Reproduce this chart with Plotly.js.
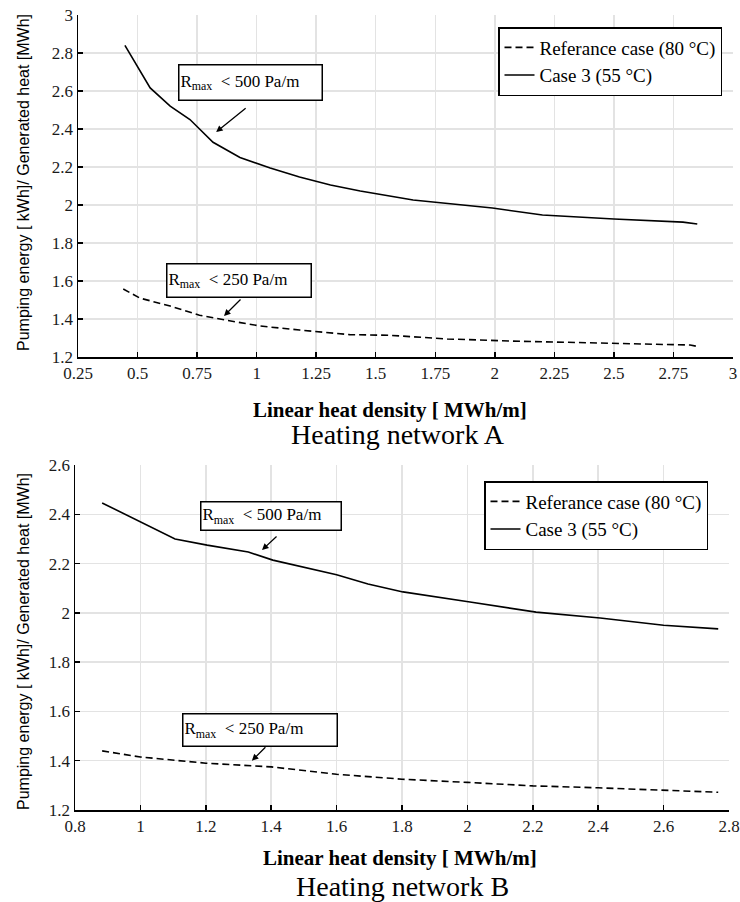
<!DOCTYPE html>
<html>
<head>
<meta charset="utf-8">
<script src="https://cdn.plot.ly/plotly-3.0.1.min.js"></script>
<style>html,body{margin:0;padding:0;background:#fff;}#chart{width:740px;height:902px;}</style>
</head>
<body>
<div id="chart"></div>
<script>
// Heating network A
const aCase3X = [0.447, 0.553, 0.637, 0.72, 0.817, 0.93, 1.057, 1.18, 1.31, 1.435, 1.657, 1.99, 2.2, 2.5, 2.79, 2.85];
const aCase3Y = [2.84, 2.616, 2.52, 2.45, 2.33, 2.25, 2.195, 2.147, 2.105, 2.074, 2.026, 1.984, 1.947, 1.926, 1.91, 1.90];
const aRefX = [0.44, 0.51, 0.637, 0.76, 0.867, 1.015, 1.18, 1.39, 1.56, 1.8, 2.065, 2.46, 2.82, 2.85];
const aRefY = [1.558, 1.51, 1.468, 1.42, 1.395, 1.363, 1.342, 1.318, 1.314, 1.295, 1.284, 1.274, 1.263, 1.256];
// Heating network B
const bCase3X = [0.883, 0.999, 1.106, 1.204, 1.33, 1.405, 1.52, 1.6, 1.696, 1.803, 2.008, 2.21, 2.406, 2.6, 2.767];
const bCase3Y = [2.446, 2.37, 2.30, 2.275, 2.247, 2.214, 2.178, 2.155, 2.117, 2.085, 2.044, 2.003, 1.979, 1.95, 1.935];
const bRefX = [0.883, 1.0, 1.2, 1.4, 1.6, 1.8, 2.0, 2.2, 2.4, 2.6, 2.767];
const bRefY = [1.44, 1.415, 1.39, 1.375, 1.345, 1.325, 1.312, 1.298, 1.29, 1.28, 1.272];

const seriesNames = ['Referance case (80 °C)', 'Case 3 (55 °C)'];
const aXTicks = [0.25, 0.5, 0.75, 1, 1.25, 1.5, 1.75, 2, 2.25, 2.5, 2.75, 3];
const aYTicks = [1.2, 1.4, 1.6, 1.8, 2, 2.2, 2.4, 2.6, 2.8, 3];
const bXTicks = [0.8, 1, 1.2, 1.4, 1.6, 1.8, 2, 2.2, 2.4, 2.6, 2.8];
const bYTicks = [1.2, 1.4, 1.6, 1.8, 2, 2.2, 2.4, 2.6];

const FONT = 'Liberation Serif';
const SANS = 'Liberation Sans';
const W = 740, H = 902;
const px = v => v / W;
const py = v => 1 - v / H;

const dashStyle = {color: '#000', width: 1.6, dash: '7px,4px'};
const solidStyle = {color: '#000', width: 1.6};

const traces = [
  {x: aRefX, y: aRefY, mode: 'lines', line: dashStyle, name: seriesNames[0], xaxis: 'x', yaxis: 'y', legend: 'legend'},
  {x: aCase3X, y: aCase3Y, mode: 'lines', line: solidStyle, name: seriesNames[1], xaxis: 'x', yaxis: 'y', legend: 'legend'},
  {x: bRefX, y: bRefY, mode: 'lines', line: dashStyle, name: seriesNames[0], xaxis: 'x2', yaxis: 'y2', legend: 'legend2'},
  {x: bCase3X, y: bCase3Y, mode: 'lines', line: solidStyle, name: seriesNames[1], xaxis: 'x2', yaxis: 'y2', legend: 'legend2'}
];

function axisBase(ticks, range, domain, anchor) {
  return {
    range: range, domain: domain, anchor: anchor,
    tickmode: 'array', tickvals: ticks, ticktext: ticks.map(String),
    showgrid: true, gridcolor: '#e3e3e3', gridwidth: 1.5,
    showline: true, linecolor: '#000', linewidth: 1.5,
    ticks: 'inside', ticklen: 5, tickcolor: '#000', tickwidth: 1.5,
    zeroline: false, mirror: false,
    tickfont: {family: FONT, size: 17, color: '#1a1a1a'}
  };
}

function legendCfg(x, y) {
  return {
    x: x, y: y, xanchor: 'left', yanchor: 'top', xref: 'paper', yref: 'paper',
    bgcolor: '#fff', bordercolor: '#000', borderwidth: 1.5,
    font: {family: FONT, size: 19, color: '#000'},
    tracegroupgap: 0, itemwidth: 30
  };
}

function box(xref, yref, x, y, txt, w, h) {
  return {xref: xref, yref: yref, x: x, y: y, text: txt, showarrow: false,
    font: {family: FONT, size: 17, color: '#000'}, bordercolor: '#000', borderwidth: 1.5,
    bgcolor: '#fff', width: w, height: h, align: 'left', borderpad: 1};
}
function arrow(xref, yref, x, y, ax, ay) {
  return {xref: xref, yref: yref, x: x, y: y, text: '', showarrow: true, ax: ax, ay: ay,
    arrowhead: 2, arrowsize: 1, arrowwidth: 1.3, arrowcolor: '#000', standoff: 0};
}
function label(x, y, txt, size, bold, angle, fam) {
  return {xref: 'paper', yref: 'paper', x: px(x), y: py(y), text: bold ? '<b>' + txt + '</b>' : txt,
    showarrow: false, xanchor: 'center', yanchor: 'middle', textangle: angle || 0,
    font: {family: fam || FONT, size: size, color: '#000'}};
}

const layout = {
  width: W, height: H,
  margin: {l: 0, r: 0, t: 0, b: 0},
  paper_bgcolor: '#fff', plot_bgcolor: '#fff',
  showlegend: true,
  font: {family: FONT},
  xaxis: axisBase(aXTicks, [0.25, 3], [px(78), px(733)], 'y'),
  yaxis: axisBase(aYTicks, [1.2, 3], [py(357), py(15)], 'x'),
  xaxis2: axisBase(bXTicks, [0.8, 2.8], [px(75), px(729)], 'y2'),
  yaxis2: axisBase(bYTicks, [1.2, 2.6], [py(810), py(465)], 'x2'),
  legend: legendCfg(px(498), py(27)),
  legend2: legendCfg(px(484), py(481)),
  annotations: [
    box('x', 'y', 0.973, 2.647, 'R<sub>max</sub>  < 500 Pa/m', 140, 32),
    arrow('x', 'y', 0.83, 2.384, 31, -25),
    box('x', 'y', 0.926, 1.605, 'R<sub>max</sub>  < 250 Pa/m', 141, 30),
    arrow('x', 'y', 0.863, 1.416, 18, -18),
    box('x2', 'y2', 1.399, 2.393, 'R<sub>max</sub>  < 500 Pa/m', 137, 25),
    arrow('x2', 'y2', 1.372, 2.255, 16, -15),
    box('x2', 'y2', 1.366, 1.525, 'R<sub>max</sub>  < 250 Pa/m', 151, 29),
    arrow('x2', 'y2', 1.341, 1.4, 15, -15),
    label(390, 410, 'Linear heat density [ MWh/m]', 21, true),
    label(398, 435, 'Heating network A', 28, false),
    label(400, 858, 'Linear heat density [ MWh/m]', 21, true),
    label(402, 886, 'Heating network B', 28, false),
    label(23, 183, 'Pumping energy [ kWh]/ Generated heat [MWh]', 16, false, -90, SANS),
    label(23, 642, 'Pumping energy [ kWh]/ Generated heat [MWh]', 16, false, -90, SANS)
  ]
};

Plotly.newPlot('chart', traces, layout, {displayModeBar: false, staticPlot: true});
</script>
</body>
</html>
